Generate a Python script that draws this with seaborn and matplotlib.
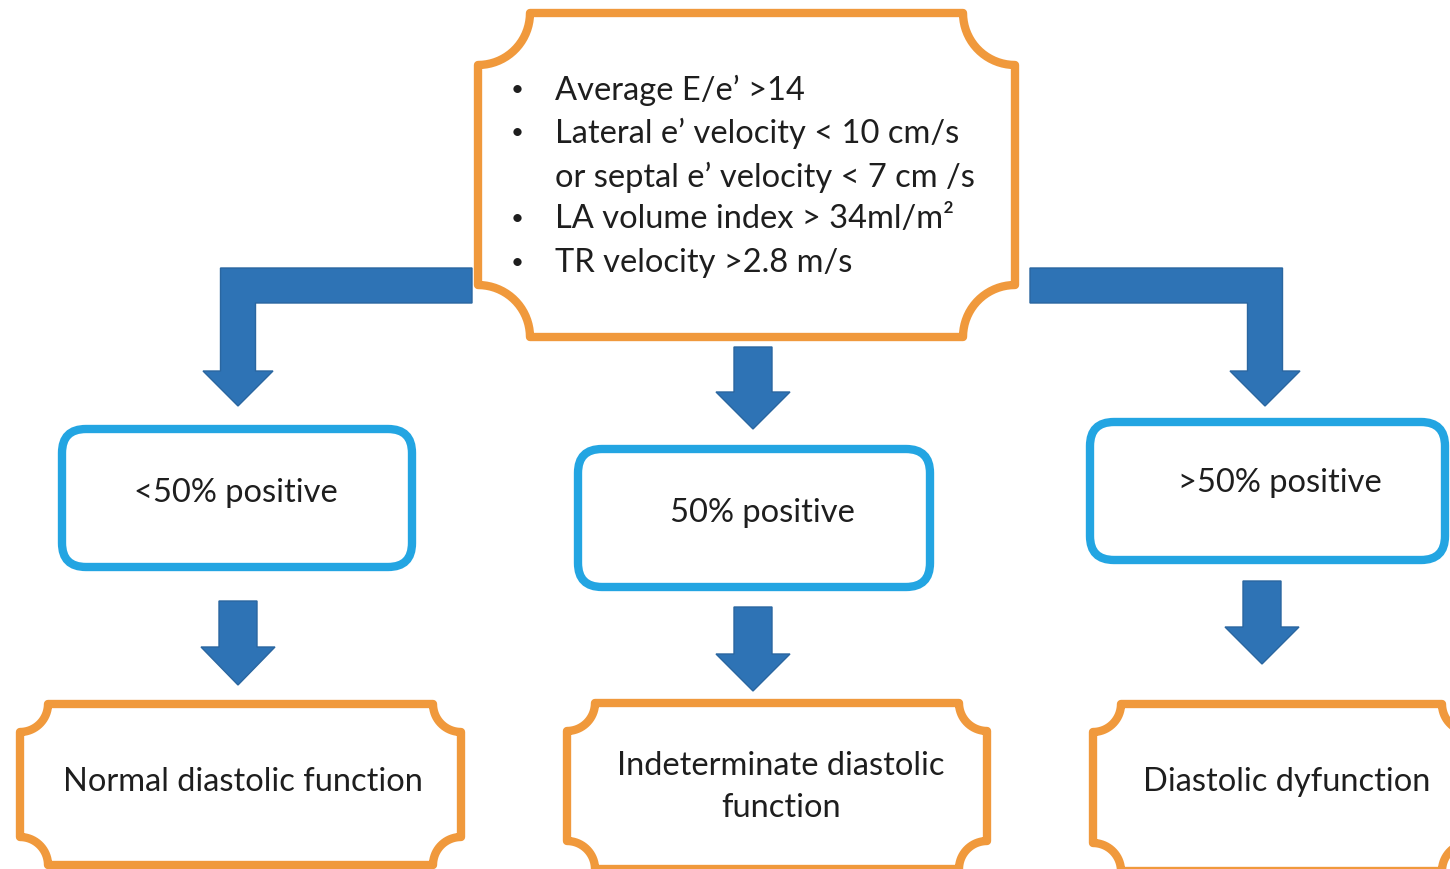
import numpy as np
import seaborn as sns
import matplotlib.pyplot as plt
from matplotlib.patches import Polygon, FancyBboxPatch


# criteria listed in the top box (line 3 continues line 2, no bullet)
CRITERIA = ["Average E/e’ >14",
            "Lateral e’ velocity < 10 cm/s",
            "or septal e’ velocity < 7 cm /s",
            "LA volume index > 34ml/m²",
            "TR velocity >2.8 m/s"]
HAS_BULLET = [True, True, False, True, True]

GROUPS = ["<50% positive", "50% positive", ">50% positive"]
OUTCOMES = ["Normal diastolic function",
            "Indeterminate diastolic\nfunction",
            "Diastolic dyfunction"]

ORANGE = "#F0993C"
BLUE_BOX = "#23A5E2"
ARROW = "#2E73B5"
TEXT = "#1E1E1E"


def plaque(ax, x0, y0, x1, y1, r, lw=6):
    """rectangle with concave (scooped) corners, pixel coords with y down"""
    t = np.linspace(0, np.pi / 2, 20)
    pts = []
    pts += list(zip(x0 + r * np.sin(t), y0 + r * np.cos(t)))
    pts += list(zip(x1 - r * np.cos(t), y0 + r * np.sin(t)))
    pts += list(zip(x1 - r * np.sin(t), y1 - r * np.cos(t)))
    pts += list(zip(x0 + r * np.cos(t), y1 - r * np.sin(t)))
    ax.add_patch(Polygon(pts, closed=True, facecolor="white",
                         edgecolor=ORANGE, lw=lw, joinstyle="round"))


def down_arrow(ax, cx, y_top, y_head, y_tip, body_w=38, head_w=74):
    pts = [(cx - body_w / 2, y_top), (cx + body_w / 2, y_top),
           (cx + body_w / 2, y_head), (cx + head_w / 2, y_head),
           (cx, y_tip), (cx - head_w / 2, y_head),
           (cx - body_w / 2, y_head)]
    ax.add_patch(Polygon(pts, closed=True, facecolor=ARROW,
                         edgecolor="#2A66A0", lw=1))


def elbow_arrow(ax, x_start, cx, y_top, y_head, y_tip,
                thick=35, head_w=70):
    s = 1 if x_start > cx else -1
    half = thick / 2
    pts = [(x_start, y_top), (cx - s * half, y_top),
           (cx - s * half, y_head), (cx - s * head_w / 2, y_head),
           (cx, y_tip), (cx + s * head_w / 2, y_head),
           (cx + s * half, y_head), (cx + s * half, y_top + thick),
           (x_start, y_top + thick)]
    ax.add_patch(Polygon(pts, closed=True, facecolor=ARROW,
                         edgecolor="#2A66A0", lw=1))


sns.set_theme(style="white")
plt.rcParams['font.family'] = ['Lato', 'DejaVu Sans']

fig = plt.figure(figsize=(14.5, 8.7), dpi=100)
ax = fig.add_axes([0, 0, 1, 1])
ax.set_xlim(0, 1450)
ax.set_ylim(870, 0)
ax.axis("off")

# top criteria box
plaque(ax, 478, 14, 1015, 338, 52)
line_y = [90, 133, 177, 219, 263]
for y, txt, bullet in zip(line_y, CRITERIA, HAS_BULLET):
    if bullet:
        ax.text(517, y, "•", fontsize=16, color=TEXT, va="center",
                ha="center")
    ax.text(555, y, txt, fontsize=23.5, color=TEXT, va="center")

# arrows from the top box
elbow_arrow(ax, 472, 238, 269, 372, 407)
elbow_arrow(ax, 1030, 1265, 269, 372, 407)
down_arrow(ax, 753, 348, 393, 430)

# blue group boxes
group_boxes = [(62, 430, 412, 568), (578, 450, 930, 588),
               (1090, 423, 1445, 561)]
group_text = [(236, 493), (762, 513), (1280, 483)]
for (x0, y0, x1, y1), (tx, ty), lab in zip(group_boxes, group_text,
                                           GROUPS):
    ax.add_patch(FancyBboxPatch((x0, y0), x1 - x0, y1 - y0,
                                boxstyle="round,pad=0,rounding_size=24",
                                facecolor="white", edgecolor=BLUE_BOX,
                                lw=6))
    ax.text(tx, ty, lab, fontsize=23.5, color=TEXT, ha="center",
            va="center")

# arrows to the outcomes
down_arrow(ax, 238, 602, 648, 686)
down_arrow(ax, 753, 608, 655, 692)
down_arrow(ax, 1262, 582, 628, 665)

# outcome boxes (cut by the bottom / right edge)
outcome_boxes = [(20, 705, 461, 866), (567, 704, 987, 870),
                 (1093, 705, 1470, 872)]
outcome_text = [(243, 782), (781, 787), (1287, 782)]
for (x0, y0, x1, y1), (tx, ty), lab in zip(outcome_boxes, outcome_text,
                                           OUTCOMES):
    plaque(ax, x0, y0, x1, y1, 28)
    ax.text(tx, ty, lab, fontsize=23.5, color=TEXT, ha="center",
            va="center", linespacing=1.5)

fig.savefig("out.png", dpi=100, facecolor="white")
